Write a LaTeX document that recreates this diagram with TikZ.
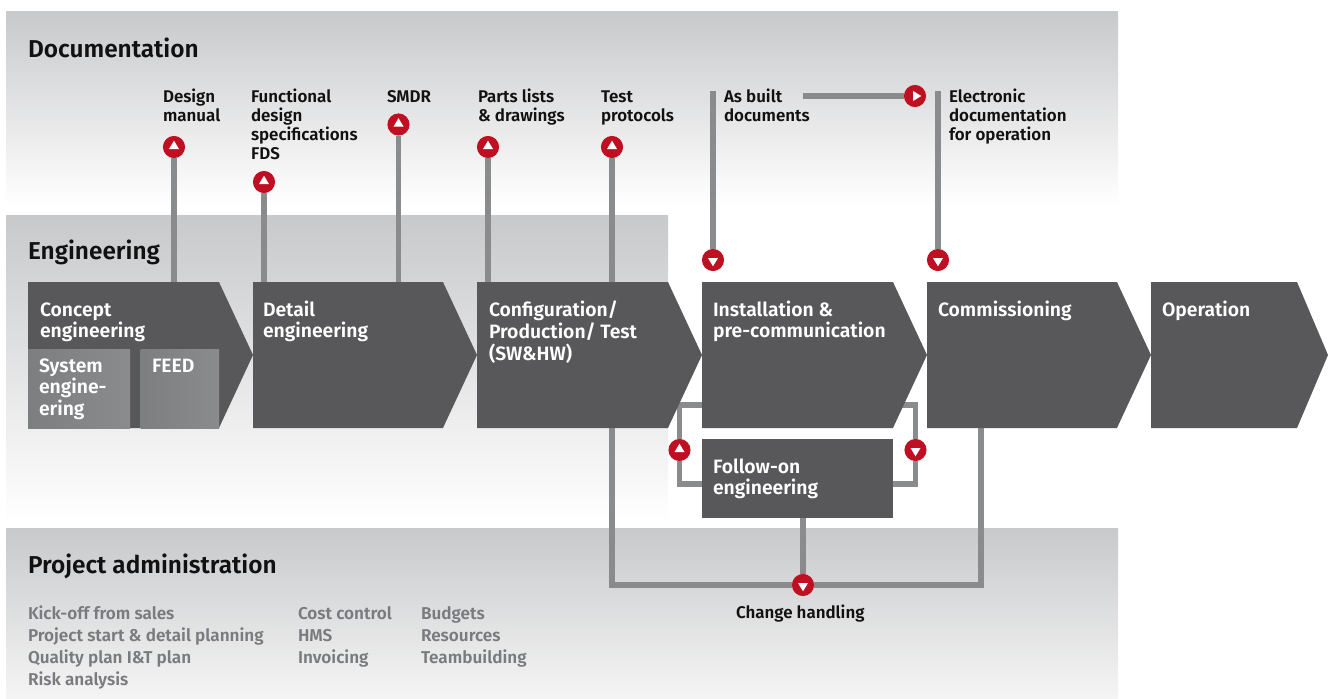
\documentclass[tikz,border=0pt]{standalone}
\usepackage{fontspec}
\setmainfont{Fira Sans SemiBold}
\usetikzlibrary{shapes.symbols}
\definecolor{panel}{HTML}{C8C9CB}
\definecolor{chev}{HTML}{58585A}
\definecolor{conn}{HTML}{8A8B8D}
\definecolor{sub}{HTML}{7D7E80}
\definecolor{mred}{HTML}{BE1022}
\definecolor{gtext}{HTML}{7A7B7E}
\definecolor{ink}{HTML}{111111}
\pgfdeclarelayer{panels}
\pgfdeclarelayer{links}
\pgfsetlayers{panels,links,main}
\newcommand{\ltext}[1]{\begin{tabular}[t]{@{}l@{}}#1\end{tabular}}
\tikzset{
 x=0.75pt,y=-0.75pt,
 every node/.style={inner sep=0pt,outer sep=0pt},
 link/.style={draw=conn,line width=3.9pt,line join=miter},
 chevron/.style={shape=signal,signal to=east,signal pointer angle=130,fill=chev,minimum height=109.5pt,anchor=west},
 subbox/.style={left color=sub,right color=conn,minimum height=59.25pt,anchor=north west},
 title/.style={anchor=base west,text=ink,font=\fontsize{18.3}{21}\selectfont},
 doclabel/.style={anchor=base west,text=ink,font=\fontsize{12.7}{13.9}\selectfont},
 chevtext/.style={anchor=base west,text=white,font=\fontsize{14.5}{15.75}\selectfont},
 adminlist/.style={anchor=base west,text=gtext,font=\fontsize{12.85}{16.5}\selectfont},
 marker/.style={circle,fill=mred,minimum size=16.6pt},
 mup/.style={marker,path picture={\fill[white] ([shift={(0,-6.3)}]path picture bounding box.center) -- ([shift={(5,2)}]path picture bounding box.center) -- ([shift={(-5,2)}]path picture bounding box.center) -- cycle;}},
 mdown/.style={marker,path picture={\fill[white] ([shift={(0,6.3)}]path picture bounding box.center) -- ([shift={(5,-2)}]path picture bounding box.center) -- ([shift={(-5,-2)}]path picture bounding box.center) -- cycle;}},
 mright/.style={marker,path picture={\fill[white] ([shift={(6.3,0)}]path picture bounding box.center) -- ([shift={(-2,5)}]path picture bounding box.center) -- ([shift={(-2,-5)}]path picture bounding box.center) -- cycle;}},
}
\begin{document}
\begin{tikzpicture}
\useasboundingbox (0,0) rectangle (1328,699);
\begin{pgfonlayer}{panels}
 \shade[top color=panel,bottom color=white] (6,12) rectangle (1118,206);
 \shade[top color=panel,bottom color=white] (6,215) rectangle (668,522);
 \shade[top color=panel,bottom color=black!4] (6,528) rectangle (1118,699);
\end{pgfonlayer}
% chevrons
\node[chevron,minimum width=168.75pt] (cA) at (28,355) {};
\node[chevron,minimum width=168pt] (cB) at (253,355) {};
\node[chevron,minimum width=168.75pt] (cC) at (477,355) {};
\node[chevron,minimum width=168.75pt] (cD) at (702,355) {};
\node[chevron,minimum width=168pt] (cE) at (927,355) {};
\node[chevron,signal pointer angle=134,minimum width=132.75pt] (cF) at (1151,355) {};
% sub boxes
\node[subbox,minimum width=76.5pt] (sys) at (28,349) {};
\node[subbox,minimum width=58.9pt] (feed) at (140.5,349) {};
\node[fill=chev,minimum width=143.25pt,minimum height=59.25pt,anchor=north west] (fo) at (702,439) {};
% titles
\node[title] (tDoc) at (28,58) {Documentation};
\node[title] (tEng) at (28,259) {Engineering};
\node[title] (tAdm) at (28,573) {Project administration};
% doc labels
\node[doclabel] (lA) at (163,102.5) {\ltext{Design\\manual}};
\node[doclabel] (lB) at (251,102.5) {\ltext{Functional\\design\\specifications\\FDS}};
\node[doclabel] (lC) at (387,102.5) {SMDR};
\node[doclabel] (lD) at (478,102.5) {\ltext{Parts lists\\\& drawings}};
\node[doclabel] (lE) at (601,102.5) {\ltext{Test\\protocols}};
\node[doclabel] (lF) at (724,102.5) {\ltext{As built\\documents}};
\node[doclabel] (lG) at (949,102.5) {\ltext{Electronic\\documentation\\for operation}};
\node[doclabel] (lH) at (736,618.5) {Change handling};
% chevron texts
\node[chevtext] (xA) at (40,316) {\ltext{Concept\\engineering}};
\node[chevtext] (xA1) at (39,372) {\ltext{System\\engine-\\ering}};
\node[chevtext] (xA2) at (152,372) {FEED};
\node[chevtext] (xB) at (263,316) {\ltext{Detail\\engineering}};
\node[chevtext] (xC) at (489,316) {\ltext{Configuration/\\Production/ Test\\(SW\&HW)}};
\node[chevtext] (xD) at (713,316) {\ltext{Installation \&\\pre-communication}};
\node[chevtext] (xE) at (938,316) {Commissioning};
\node[chevtext] (xF) at (1162,316) {Operation};
\node[chevtext] (xG) at (713,473) {\ltext{Follow-on\\engineering}};
% admin lists
\node[adminlist] (a1) at (28,619) {\ltext{Kick-off from sales\\Project start \& detail planning\\Quality plan I\&T plan\\Risk analysis}};
\node[adminlist] (a2) at (298,619) {\ltext{Cost control\\HMS\\Invoicing}};
\node[adminlist] (a3) at (421,619) {\ltext{Budgets\\Resources\\Teambuilding}};
% markers
\node[mup] (m1) at (174,147) {};
\node[mup] (m2) at (264,182) {};
\node[mup] (m3) at (398.5,124.5) {};
\node[mup] (m4) at (488,147) {};
\node[mup] (m5) at (612,147) {};
\node[mdown] (m6) at (713,260) {};
\node[mdown] (m7) at (938,260) {};
\node[mright] (m8) at (915,96) {};
\node[mup] (m9) at (679.5,450) {};
\node[mdown] (m10) at (915.5,450) {};
\node[mdown] (m11) at (803,585) {};
% free ends
\coordinate (e6) at (713,91);
\coordinate (e7) at (938,91);
\coordinate (e8) at (803,96);
\coordinate (l1) at (702,405);
\coordinate (l2) at (702,484);
\coordinate (r1) at (893,405);
\coordinate (r2) at (893,484);
\coordinate (b1) at (612,428);
\coordinate (b2) at (981,428);
\begin{pgfonlayer}{links}
 \draw[link] (m1) -- (m1 |- cA.north);
 \draw[link] (m2) -- (m2 |- cB.north);
 \draw[link] (m3) -- (m3 |- cB.north);
 \draw[link] (m4) -- (m4 |- cC.north);
 \draw[link] (m5) -- (m5 |- cC.north);
 \draw[link] (e6) -- (m6);
 \draw[link] (e7) -- (m7);
 \draw[link] (e8) -- (m8);
 \draw[link] (l1) -| (m9) |- (l2);
 \draw[link] (r1) -| (m10) |- (r2);
 \draw[link] (b1) |- (m11);
 \draw[link] (b2) |- (m11);
 \draw[link] (fo.south -| m11) -- (m11);
\end{pgfonlayer}
\end{tikzpicture}
\end{document}
